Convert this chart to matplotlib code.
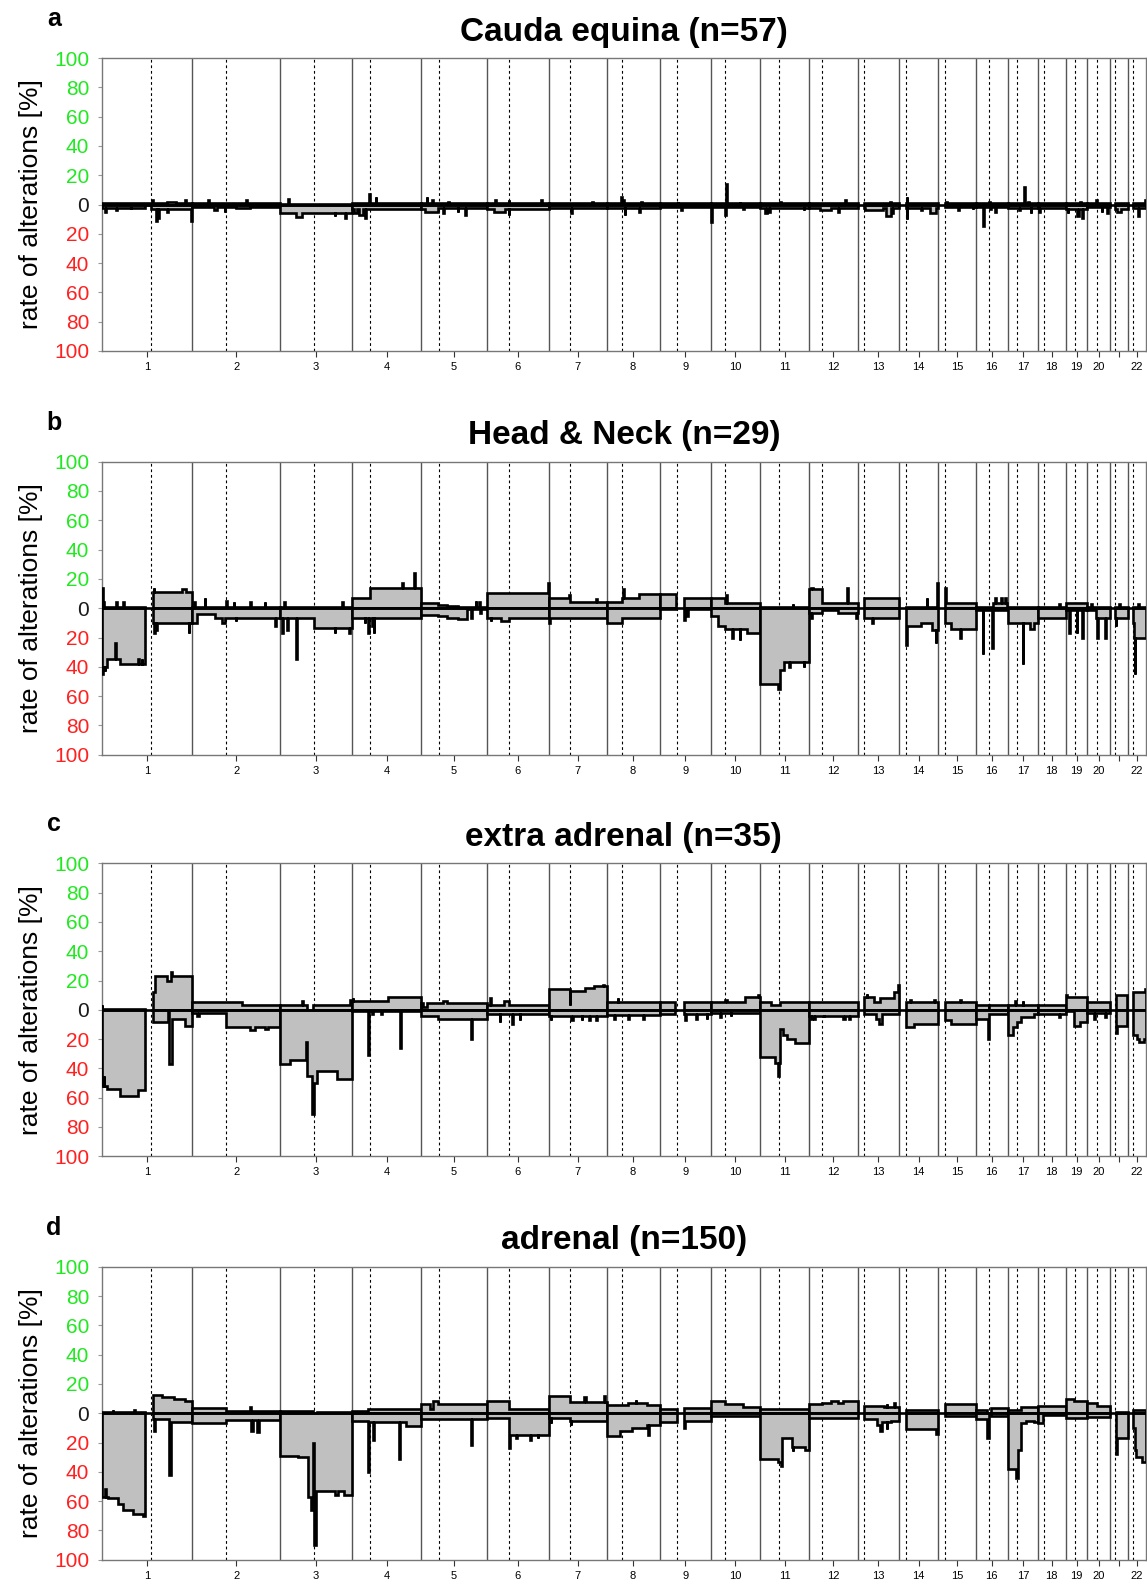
import matplotlib.pyplot as plt
import numpy as np

plt.rcParams['font.family'] = ['Liberation Sans', 'DejaVu Sans']

# chromosome sizes and centromere positions (Mb)
chrom_len = [249, 243, 198, 191, 181, 171, 159, 146, 141, 136, 135, 134,
             115, 107, 103, 90, 81, 78, 59, 63, 48, 51]
centromere = [135, 94, 93, 50, 48, 61, 59, 43, 49, 40, 52, 36,
              17, 17, 19, 37, 24, 17, 26, 28, 14, 15]
chrom_labels = [str(i) for i in range(1, 23)]
chrom_labels[20] = ''  # 21 is not printed

titles = ['Cauda equina (n=57)', 'Head & Neck (n=29)',
          'extra adrenal (n=35)', 'adrenal (n=150)']
letters = ['a', 'b', 'c', 'd']

# segments: (chromosome, start Mb, end Mb, percent); later entries win
cauda_gain = [
    (1, 0, 249, 1), (1, 140, 142, 3), (1, 180, 205, 2), (1, 230, 232, 3),
    (2, 0, 243, 1), (2, 44, 46, 3), (2, 150, 152, 3),
    (3, 0, 198, 0.5), (3, 22, 24, 4),
    (4, 0, 191, 1), (4, 48, 50, 7), (4, 65, 67, 5),
    (5, 0, 181, 1), (5, 15, 17, 5), (5, 30, 32, 3), (5, 75, 77, 2),
    (6, 0, 171, 1), (6, 22, 24, 3), (6, 60, 62, 3), (6, 150, 152, 3),
    (7, 0, 159, 1), (7, 120, 122, 2),
    (8, 0, 146, 1), (8, 40, 42, 5), (8, 45, 47, 3), (8, 95, 97, 2),
    (9, 0, 141, 1), (9, 50, 52, 2),
    (10, 0, 136, 1), (10, 43, 45, 14), (10, 80, 82, 2),
    (11, 0, 135, 1), (11, 55, 57, 2),
    (12, 0, 134, 1), (12, 100, 102, 3),
    (13, 17, 115, 1), (13, 90, 92, 2),
    (14, 17, 107, 1), (14, 20, 22, 5),
    (15, 19, 103, 1), (15, 22, 24, 2),
    (16, 0, 90, 1), (16, 38, 40, 2),
    (17, 0, 81, 1), (17, 45, 47, 12), (17, 55, 57, 2),
    (18, 0, 78, 1),
    (19, 0, 59, 1), (19, 40, 42, 2),
    (20, 0, 63, 1), (20, 25, 27, 3),
    (21, 14, 48, 1),
    (22, 15, 51, 1), (22, 48, 50, 3),
]
cauda_loss = [
    (1, 0, 120, 2.5), (1, 10, 12, 5), (1, 40, 42, 4), (1, 80, 82, 3),
    (1, 135, 249, 3), (1, 150, 152, 11), (1, 155, 157, 9), (1, 180, 182, 5), (1, 246, 248, 11),
    (2, 0, 243, 2), (2, 60, 70, 3.5), (2, 120, 160, 2.5), (2, 90, 92, 5),
    (3, 0, 198, 5.5), (3, 45, 60, 8.5), (3, 150, 152, 8), (3, 180, 182, 9),
    (4, 0, 191, 3), (4, 5, 15, 6), (4, 18, 30, 7), (4, 35, 38, 9),
    (5, 0, 10, 3), (5, 10, 46, 5), (5, 46, 181, 2.5), (5, 60, 62, 6), (5, 100, 102, 5), (5, 120, 122, 7),
    (6, 0, 171, 3), (6, 20, 50, 5), (6, 60, 62, 7),
    (7, 0, 159, 2.5), (7, 60, 63, 6),
    (8, 0, 146, 2.5), (8, 50, 52, 7), (8, 90, 92, 5),
    (9, 0, 141, 1.5), (9, 60, 62, 4),
    (10, 0, 136, 2), (10, 0, 4, 12), (10, 38, 41, 7), (10, 90, 92, 3),
    (11, 0, 135, 2.5), (11, 15, 20, 6), (11, 25, 27, 5), (11, 120, 122, 4),
    (12, 0, 134, 2.5), (12, 30, 60, 4), (12, 80, 82, 5),
    (13, 17, 115, 2.5), (13, 20, 70, 4), (13, 78, 92, 8), (13, 95, 97, 6),
    (14, 17, 107, 2.5), (14, 20, 22, 10), (14, 60, 62, 4), (14, 85, 100, 6),
    (15, 19, 103, 1.5), (15, 55, 57, 4), (15, 95, 97, 3),
    (16, 0, 90, 2), (16, 22, 24, 15), (16, 40, 42, 3), (16, 55, 57, 5),
    (17, 0, 81, 2.5), (17, 30, 32, 4), (17, 62, 64, 6),
    (18, 0, 78, 2.5), (18, 5, 7, 5),
    (19, 0, 59, 3), (19, 5, 7, 6), (19, 30, 35, 8), (19, 45, 47, 9),
    (20, 0, 63, 2), (20, 40, 42, 5), (20, 55, 58, 6),
    (21, 14, 48, 3), (21, 20, 30, 5),
    (22, 15, 51, 2.5), (22, 30, 33, 8),
]

hn_gain = [
    (1, 0, 120, 0.5), (1, 0, 3, 14), (1, 4, 6, 4), (1, 40, 42, 4), (1, 60, 62, 4),
    (1, 142, 249, 11), (1, 143, 145, 14), (1, 222, 232, 13),
    (2, 0, 243, 0.5), (2, 6, 8, 4), (2, 35, 37, 7), (2, 95, 97, 5), (2, 115, 117, 4),
    (2, 160, 162, 4), (2, 200, 202, 4),
    (3, 0, 198, 0.5), (3, 10, 12, 4), (3, 170, 172, 4),
    (4, 0, 50, 7), (4, 50, 191, 14), (4, 138, 140, 17), (4, 172, 174, 24),
    (5, 0, 46, 3.5), (5, 46, 70, 2.5), (5, 70, 100, 1.5), (5, 100, 127, 0.7),
    (5, 127, 181, 0.5), (5, 150, 152, 5), (5, 160, 162, 4),
    (6, 0, 171, 10.5), (6, 168, 170, 17),
    (7, 0, 59, 7), (7, 59, 159, 4), (7, 55, 57, 9), (7, 130, 132, 6),
    (8, 0, 43, 4), (8, 43, 90, 7), (8, 46, 48, 13), (8, 90, 146, 10),
    (9, 0, 46, 10), (9, 66, 141, 7),
    (10, 0, 40, 7), (10, 40, 136, 3.5), (10, 42, 44, 9),
    (11, 0, 135, 0.5), (11, 90, 92, 3),
    (12, 0, 36, 13), (12, 5, 10, 14), (12, 36, 134, 3.5), (12, 105, 107, 14),
    (13, 17, 115, 7),
    (14, 17, 107, 0.5), (14, 75, 77, 7), (14, 104, 106, 17),
    (15, 19, 103, 3.5), (15, 19, 21, 14),
    (16, 0, 47, 0.5), (16, 47, 88, 3.5), (16, 55, 57, 7), (16, 70, 72, 7), (16, 82, 84, 7),
    (17, 0, 81, 0.5),
    (18, 0, 78, 0.5), (18, 60, 62, 3),
    (19, 0, 59, 3.5),
    (20, 0, 63, 0.5), (20, 10, 12, 3),
    (21, 14, 48, 0.5), (21, 25, 27, 3),
    (22, 15, 51, 0.5), (22, 30, 32, 3),
]
hn_loss = [
    (1, 0, 15, 40), (1, 15, 50, 35), (1, 50, 120, 38), (1, 2, 4, 45), (1, 8, 10, 43),
    (1, 37, 39, 24), (1, 100, 102, 35), (1, 110, 112, 35),
    (1, 142, 249, 10), (1, 145, 147, 17), (1, 150, 152, 15), (1, 240, 242, 17),
    (2, 0, 13, 10), (2, 13, 64, 4), (2, 64, 82, 7), (2, 82, 92, 10), (2, 92, 243, 7),
    (2, 120, 122, 9), (2, 230, 232, 12),
    (3, 0, 93, 7), (3, 93, 198, 13.5), (3, 45, 47, 35), (3, 5, 8, 17), (3, 20, 22, 15),
    (3, 150, 152, 17), (3, 190, 192, 17),
    (4, 0, 191, 7), (4, 35, 37, 10), (4, 45, 47, 17), (4, 60, 62, 17), (4, 55, 57, 12),
    (5, 0, 46, 4.5), (5, 46, 70, 5.5), (5, 70, 100, 6.5), (5, 100, 127, 7.5),
    (5, 127, 181, 0.5), (5, 138, 140, 7), (5, 162, 164, 3),
    (6, 0, 171, 7), (6, 40, 60, 9), (6, 10, 12, 9),
    (7, 0, 159, 7), (7, 0, 2, 10),
    (8, 0, 43, 10), (8, 43, 146, 7),
    (9, 0, 46, 0.5), (9, 66, 141, 0.5), (9, 66, 70, 8), (9, 75, 77, 5),
    (10, 0, 20, 5), (10, 20, 40, 12), (10, 40, 100, 14), (10, 100, 136, 17),
    (10, 60, 62, 20), (10, 80, 82, 22),
    (11, 0, 50, 52), (11, 50, 56, 55), (11, 56, 66, 42), (11, 66, 135, 37),
    (11, 80, 82, 40), (11, 120, 122, 40),
    (12, 0, 36, 3.5), (12, 36, 80, 1), (12, 80, 134, 3.5), (12, 5, 7, 7), (12, 130, 132, 7),
    (13, 17, 115, 7), (13, 40, 42, 10),
    (14, 17, 22, 20), (14, 22, 60, 12), (14, 60, 90, 10), (14, 90, 107, 15),
    (14, 18, 20, 25), (14, 100, 102, 24),
    (15, 19, 35, 10), (15, 35, 103, 14), (15, 60, 62, 20),
    (16, 0, 90, 1), (16, 20, 22, 31), (16, 46, 48, 27),
    (17, 0, 81, 10), (17, 40, 42, 38), (17, 60, 70, 14),
    (18, 0, 78, 7),
    (19, 0, 59, 1), (19, 10, 12, 17), (19, 30, 32, 17), (19, 45, 47, 20),
    (20, 0, 25, 1), (20, 25, 63, 7), (20, 27, 29, 20), (20, 50, 52, 20),
    (21, 14, 48, 7), (21, 15, 17, 12),
    (22, 15, 51, 20), (22, 15, 18, 10), (22, 20, 22, 45),
]

ea_gain = [
    (1, 0, 120, 0.5), (1, 0, 2, 3),
    (1, 142, 146, 12), (1, 146, 249, 23), (1, 180, 190, 20), (1, 190, 193, 26),
    (2, 0, 137, 5.5), (2, 137, 243, 3),
    (3, 0, 75, 3), (3, 60, 62, 6), (3, 90, 198, 3), (3, 192, 198, 7),
    (4, 0, 100, 6), (4, 2, 4, 8), (4, 100, 191, 8.5),
    (5, 0, 181, 4.5), (5, 5, 15, 2), (5, 60, 70, 6),
    (6, 0, 46, 3.5), (6, 8, 10, 8), (6, 46, 62, 6), (6, 62, 171, 3),
    (7, 0, 58, 14), (7, 57, 59, 3), (7, 59, 100, 13), (7, 100, 125, 15), (7, 125, 159, 16),
    (7, 150, 153, 17),
    (8, 0, 146, 5.5), (8, 30, 32, 8),
    (9, 0, 43, 5.5), (9, 68, 141, 5.5),
    (10, 0, 95, 5.5), (10, 40, 45, 7), (10, 95, 136, 8.5), (10, 130, 132, 10),
    (11, 0, 30, 5.5), (11, 30, 55, 3), (11, 55, 135, 5.5),
    (12, 0, 134, 5.5),
    (13, 17, 45, 9), (13, 25, 27, 11), (13, 45, 63, 5.5), (13, 63, 100, 8),
    (13, 100, 115, 12), (13, 110, 113, 17),
    (14, 17, 107, 5.5), (14, 30, 32, 7), (14, 95, 97, 7),
    (15, 19, 103, 5.5), (15, 60, 62, 7),
    (16, 0, 36, 3), (16, 38, 90, 3.5),
    (17, 0, 81, 3.5), (17, 20, 22, 6), (17, 40, 42, 6),
    (18, 0, 78, 3.5),
    (19, 0, 59, 8.5), (19, 0, 2, 10),
    (20, 0, 63, 5.5),
    (21, 16, 46, 10),
    (22, 16, 51, 12), (22, 48, 51, 14),
]
ea_loss = [
    (1, 0, 14, 52), (1, 5, 7, 45), (1, 14, 50, 54), (1, 50, 101, 59), (1, 101, 120, 55),
    (1, 142, 184, 8), (1, 186, 195, 37), (1, 195, 230, 6), (1, 230, 249, 11),
    (2, 0, 93, 2.5), (2, 15, 20, 4), (2, 93, 243, 11.5), (2, 160, 175, 14), (2, 200, 210, 13),
    (3, 0, 27, 37), (3, 27, 70, 34), (3, 70, 74, 22), (3, 74, 88, 45), (3, 88, 93, 71),
    (3, 93, 101, 50), (3, 101, 156, 42), (3, 156, 198, 47),
    (4, 0, 191, 0.5), (4, 44, 47, 31), (4, 131, 134, 26), (4, 55, 57, 3), (4, 80, 82, 3),
    (5, 0, 47, 4.5), (5, 47, 181, 6), (5, 137, 140, 20),
    (6, 0, 171, 3), (6, 35, 37, 8), (6, 70, 72, 10), (6, 90, 92, 7),
    (7, 0, 159, 4), (7, 5, 7, 7), (7, 60, 66, 7), (7, 90, 92, 7), (7, 110, 112, 7), (7, 130, 132, 7),
    (8, 0, 146, 3.5), (8, 20, 22, 6), (8, 60, 62, 6), (8, 100, 102, 6),
    (9, 0, 43, 3), (9, 68, 141, 3), (9, 70, 72, 7), (9, 100, 102, 6), (9, 130, 132, 6),
    (10, 0, 136, 2), (10, 25, 27, 5), (10, 55, 57, 4),
    (11, 0, 41, 32), (11, 41, 55, 36), (11, 50, 52, 45), (11, 55, 62, 13), (11, 62, 74, 17),
    (11, 74, 97, 20), (11, 97, 135, 23),
    (12, 0, 134, 4), (12, 5, 8, 6), (12, 15, 17, 6), (12, 40, 42, 5), (12, 95, 100, 6), (12, 110, 112, 6),
    (13, 17, 50, 3), (13, 50, 60, 6), (13, 60, 68, 10), (13, 68, 115, 3),
    (14, 17, 40, 12), (14, 40, 107, 10),
    (15, 19, 35, 7), (15, 35, 103, 10),
    (16, 0, 35, 6.5), (16, 35, 37, 20), (16, 37, 90, 3),
    (17, 0, 12, 17), (17, 12, 25, 12), (17, 25, 35, 8), (17, 35, 72, 5), (17, 72, 81, 3),
    (18, 0, 78, 3), (18, 60, 62, 5),
    (19, 0, 22, 1), (19, 22, 40, 11), (19, 40, 59, 8),
    (20, 0, 63, 2.5), (20, 20, 22, 6), (20, 50, 52, 5),
    (21, 16, 46, 11), (21, 16, 18, 16),
    (22, 16, 25, 17), (22, 25, 32, 20), (22, 32, 46, 22), (22, 46, 51, 20),
]

ad_gain = [
    (1, 0, 120, 1), (1, 30, 32, 2), (1, 90, 92, 2),
    (1, 142, 165, 12.5), (1, 165, 200, 11), (1, 200, 230, 10), (1, 230, 249, 8.5),
    (2, 0, 95, 3.5), (2, 95, 243, 1.5), (2, 160, 162, 4),
    (3, 0, 90, 1.5), (3, 101, 198, 0.5),
    (4, 0, 45, 1.5), (4, 45, 191, 3),
    (5, 0, 24, 6.5), (5, 24, 33, 3), (5, 33, 47, 8.5), (5, 47, 181, 6),
    (6, 0, 60, 8), (6, 60, 171, 3),
    (7, 0, 58, 12), (7, 58, 159, 7.5), (7, 98, 101, 11), (7, 152, 155, 12),
    (8, 0, 146, 5.5), (8, 60, 110, 7), (8, 80, 82, 9),
    (9, 0, 48, 3), (9, 68, 141, 3.5),
    (10, 0, 40, 8), (10, 40, 90, 6), (10, 90, 136, 4.5),
    (11, 0, 135, 3),
    (12, 0, 36, 6), (12, 36, 60, 7), (12, 60, 80, 8.5), (12, 80, 95, 7), (12, 95, 134, 8),
    (13, 17, 73, 5), (13, 73, 115, 4), (13, 80, 82, 6), (13, 100, 103, 7),
    (14, 17, 107, 2),
    (15, 19, 103, 6.5),
    (16, 0, 33, 2), (16, 42, 90, 3.5),
    (17, 0, 35, 2.5), (17, 35, 81, 4),
    (18, 0, 78, 5),
    (19, 0, 22, 9.5), (19, 22, 59, 8),
    (20, 0, 28, 7), (20, 28, 63, 5),
    (21, 16, 48, 0.5),
    (22, 16, 51, 2),
]
ad_loss = [
    (1, 0, 18, 57), (1, 10, 12, 52), (1, 18, 46, 58), (1, 46, 60, 62), (1, 60, 85, 66),
    (1, 85, 115, 69), (1, 115, 118, 70), (1, 118, 120, 62),
    (1, 142, 186, 4), (1, 144, 147, 12), (1, 186, 192, 42), (1, 192, 249, 6),
    (2, 0, 95, 6.5), (2, 95, 243, 4.5), (2, 162, 167, 12), (2, 180, 184, 13),
    (3, 0, 78, 29), (3, 50, 78, 30), (3, 78, 85, 57), (3, 85, 90, 66), (3, 90, 93, 20),
    (3, 93, 100, 90), (3, 100, 175, 53), (3, 150, 160, 56), (3, 175, 198, 56),
    (4, 0, 45, 5), (4, 44, 47, 40), (4, 47, 191, 6), (4, 58, 62, 18), (4, 130, 133, 31),
    (4, 150, 191, 9),
    (5, 0, 181, 4), (5, 137, 140, 22),
    (6, 0, 60, 3), (6, 60, 64, 24), (6, 64, 171, 15), (6, 80, 82, 17), (6, 120, 122, 18),
    (6, 140, 142, 17),
    (7, 0, 58, 3), (7, 5, 7, 7), (7, 58, 159, 5.5), (7, 60, 62, 8),
    (8, 0, 37, 15.5), (8, 37, 70, 12), (8, 70, 110, 10), (8, 110, 146, 8), (8, 114, 116, 15),
    (9, 0, 48, 6), (9, 68, 141, 5), (9, 68, 70, 10),
    (10, 0, 136, 2),
    (11, 0, 50, 31), (11, 50, 57, 33), (11, 57, 60, 36), (11, 60, 87, 17), (11, 87, 124, 23),
    (11, 90, 92, 26), (11, 124, 135, 25),
    (12, 0, 134, 3),
    (13, 17, 54, 4), (13, 54, 62, 8), (13, 62, 68, 12), (13, 68, 91, 6), (13, 80, 82, 11),
    (13, 91, 115, 5),
    (14, 17, 100, 11), (14, 100, 107, 14),
    (15, 19, 103, 2),
    (16, 0, 33, 4), (16, 33, 36, 17), (16, 42, 90, 2),
    (17, 0, 21, 38), (17, 21, 26, 44), (17, 26, 35, 25), (17, 35, 50, 7), (17, 50, 72, 5),
    (17, 72, 81, 6),
    (18, 0, 14, 7), (18, 14, 78, 1.5),
    (19, 0, 59, 3),
    (20, 0, 63, 2.5),
    (21, 16, 18, 28), (21, 18, 48, 17),
    (22, 16, 20, 10), (22, 20, 24, 25), (22, 24, 40, 30), (22, 40, 51, 33),
]

panels = [(cauda_gain, cauda_loss), (hn_gain, hn_loss),
          (ea_gain, ea_loss), (ad_gain, ad_loss)]

offset = np.concatenate([[0], np.cumsum(chrom_len)[:-1]])
total = sum(chrom_len)


def draw_profile(ax, segs, sign):
    for c in range(1, 23):
        cs = [s for s in segs if s[0] == c]
        if not cs:
            continue
        bps = sorted(set([s[1] for s in cs] + [s[2] for s in cs]))
        runs, cur = [], []
        for a, b in zip(bps[:-1], bps[1:]):
            m = (a + b) / 2
            v = None
            for s in cs:
                if s[1] <= m < s[2]:
                    v = s[3]
            if v is None:
                if cur:
                    runs.append(cur)
                cur = []
            else:
                cur.append((a, b, v))
        if cur:
            runs.append(cur)
        for run in runs:
            xs = [run[0][0]]
            ys = [0]
            for a, b, v in run:
                xs += [a, b]
                ys += [v, v]
            xs.append(run[-1][1])
            ys.append(0)
            xs = np.array(xs) + offset[c - 1]
            ys = sign * np.array(ys)
            ax.fill(xs, ys, facecolor='#c0c0c0', edgecolor='black',
                    lw=1.9, joinstyle='miter', zorder=3)


W, H = 1147, 1585
fig = plt.figure(figsize=(W / 100, H / 100), dpi=100)

ax_tops = [58, 461.7, 863.3, 1266.7]
ax_h = 293
left_px, right_px = 101.7, 1146

ytick_vals = np.arange(-100, 101, 20)
ytick_labels = [str(abs(v)) for v in ytick_vals]
ytick_colors = ['#ff2020'] * 5 + ['#1a1a1a'] + ['#22e822'] * 5

for i, (gain, loss) in enumerate(panels):
    top = ax_tops[i]
    ax = fig.add_axes([left_px / W, 1 - (top + ax_h) / H,
                       (right_px - left_px) / W, ax_h / H])
    ax.set_xlim(0, total)
    ax.set_ylim(-100, 100)

    for c in range(1, 22):
        ax.axvline(offset[c], color='#555555', lw=1.0, zorder=1)
    for c in range(22):
        ax.axvline(offset[c] + centromere[c], color='black', lw=0.8,
                   ls=(0, (2.5, 2.5)), zorder=1)

    draw_profile(ax, gain, 1)
    draw_profile(ax, loss, -1)
    ax.axhline(0, color='black', lw=1.9, zorder=4)

    ax.set_yticks(ytick_vals)
    ax.set_yticklabels(ytick_labels)
    for lab, col in zip(ax.get_yticklabels(), ytick_colors):
        lab.set_color(col)
    ax.tick_params(axis='y', labelsize=15, length=3, color='#999999', pad=6)

    ax.set_xticks(offset + np.array(chrom_len) / 2)
    ax.set_xticklabels(chrom_labels)
    ax.tick_params(axis='x', labelsize=8, length=4, pad=4, color='#333333')

    for sp in ax.spines.values():
        sp.set_color('#777777')
        sp.set_linewidth(1.0)

    fig.text((left_px + right_px) / 2 / W, 1 - (top - 26) / H, titles[i],
             fontsize=24, fontweight='bold', ha='center', va='center')
    fig.text(54 / W, 1 - (top - 39) / H, letters[i], fontsize=18,
             fontweight='bold', ha='center', va='center')
    fig.text(31 / W, 1 - (top + ax_h / 2) / H, 'rate of alterations [%]',
             fontsize=19, rotation=90, ha='center', va='center')

fig.savefig('out.png', dpi=100)
